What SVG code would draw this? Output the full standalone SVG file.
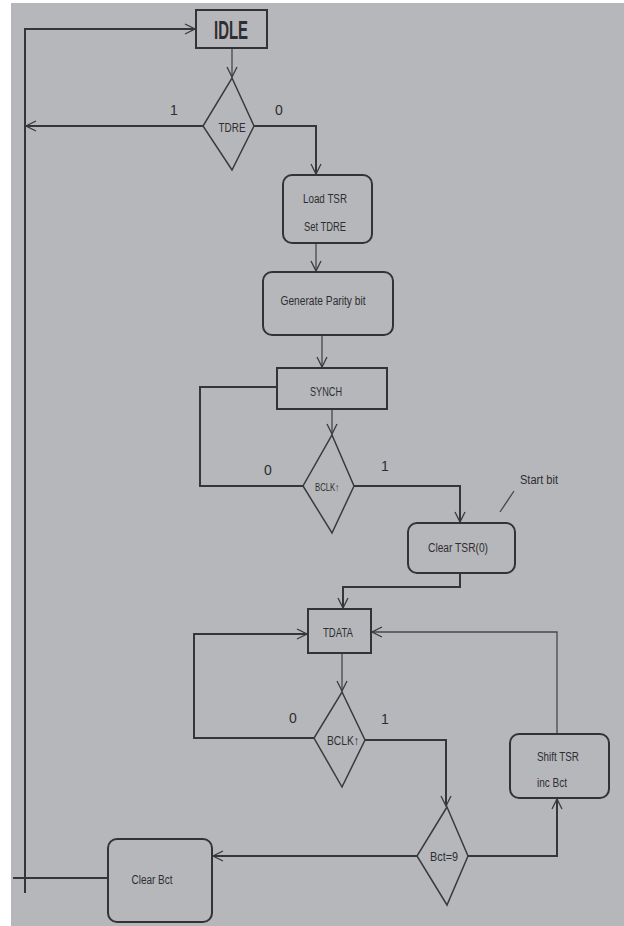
<svg xmlns="http://www.w3.org/2000/svg" width="624" height="926" viewBox="0 0 624 926">
<defs>
<marker id="arr" viewBox="0 0 12 12" refX="11" refY="6" markerWidth="12" markerHeight="12" markerUnits="userSpaceOnUse" orient="auto">
<path d="M1,1 L11,6 L1,11" fill="none" stroke="#3a3a3c" stroke-width="1.3"/>
</marker>
<style>
.bg{fill:#b6b7bb}
.box{fill:none;stroke:#333335;stroke-width:2}
.dia{fill:none;stroke:#3a3a3c;stroke-width:1.5}
.ln{fill:none;stroke:#363638;stroke-width:2}
.thin{fill:none;stroke:#48484a;stroke-width:1.3}
.t{font-family:"Liberation Sans","DejaVu Sans",sans-serif;fill:#2e2e30;text-anchor:middle}
.s{font-size:12px}
.lbl{font-family:"Liberation Sans","DejaVu Sans",sans-serif;fill:#2e2e30;font-size:14px;text-anchor:middle}
</style>
</defs>
<rect width="624" height="926" fill="#ffffff"/>
<rect x="11" y="3" width="613" height="923" class="bg"/>

<g id="connectors">
<path class="ln" d="M25,893 V29 H195" marker-end="url(#arr)"/>
<path class="thin" d="M232,48 V77" marker-end="url(#arr)"/>
<path class="ln" d="M203,126 H26" marker-end="url(#arr)"/>
<path class="ln" d="M254,126 H316 V174" marker-end="url(#arr)"/>
<path class="thin" d="M316,243 V271" marker-end="url(#arr)"/>
<path class="thin" d="M322,335 V367" marker-end="url(#arr)"/>
<path class="thin" d="M332,409 V434" marker-end="url(#arr)"/>
<path class="ln" d="M303,486 H200 V387 H277"/>
<path class="ln" d="M354,486 H460 V522" marker-end="url(#arr)"/>
<path class="ln" d="M460,573 V587 H343 V608" marker-end="url(#arr)"/>
<path class="thin" d="M342,653 V691" marker-end="url(#arr)"/>
<path class="ln" d="M314,738 H194 V634 H307" marker-end="url(#arr)"/>
<path class="ln" d="M365,740 H446 V806" marker-end="url(#arr)"/>
<path class="ln" d="M468,856 H557 V799" marker-end="url(#arr)"/>
<path class="thin" d="M557,734 V632 H372" marker-end="url(#arr)"/>
<path class="ln" d="M417,856 H213" marker-end="url(#arr)"/>
<path class="ln" d="M108,878 H13"/>
<path class="thin" d="M500,512 L514,491"/>
</g>

<g id="idle">
<rect x="196" y="10" width="71" height="38" class="box"/>
<text x="231" y="39" class="t" style="font-size:26px;font-weight:bold" textLength="34" lengthAdjust="spacingAndGlyphs">IDLE</text>
</g>

<g id="tdre">
<polygon points="232,78 254,126 232,170 203,126" class="dia"/>
<text x="232" y="132" class="t s" textLength="27" lengthAdjust="spacingAndGlyphs">TDRE</text>
<text x="174" y="115" class="lbl">1</text>
<text x="279" y="115" class="lbl">0</text>
</g>

<g id="loadtsr">
<rect x="283" y="175" width="89" height="68" rx="9" class="box"/>
<text x="325" y="203" class="t s" textLength="44" lengthAdjust="spacingAndGlyphs">Load TSR</text>
<text x="325" y="231" class="t s" textLength="42" lengthAdjust="spacingAndGlyphs">Set TDRE</text>
</g>

<g id="genparity">
<rect x="263" y="272" width="130" height="63" rx="9" class="box"/>
<text x="323" y="305" class="t s" textLength="85" lengthAdjust="spacingAndGlyphs">Generate Parity bit</text>
</g>

<g id="synch">
<rect x="277" y="368" width="110" height="41" class="box"/>
<text x="326" y="396" class="t s" textLength="32" lengthAdjust="spacingAndGlyphs">SYNCH</text>
</g>

<g id="bclk1">
<polygon points="332,435 354,486 332,533 303,486" class="dia"/>
<text x="327" y="491" class="t" style="font-size:11px" textLength="24" lengthAdjust="spacingAndGlyphs">BCLK↑</text>
<text x="268" y="475" class="lbl">0</text>
<text x="385" y="471" class="lbl">1</text>
</g>

<g id="cleartsr">
<rect x="408" y="523" width="107" height="50" rx="9" class="box"/>
<text x="458" y="552" class="t s" textLength="60" lengthAdjust="spacingAndGlyphs">Clear TSR(0)</text>
</g>

<g id="startbit">
<text x="539" y="484" class="t s" textLength="38" lengthAdjust="spacingAndGlyphs">Start bit</text>
</g>

<g id="tdata">
<rect x="308" y="609" width="63" height="44" class="box"/>
<text x="338" y="637" class="t s" textLength="30" lengthAdjust="spacingAndGlyphs">TDATA</text>
</g>

<g id="bclk2">
<polygon points="342,692 365,740 342,787 314,738" class="dia"/>
<text x="343" y="745" class="t s" textLength="32" lengthAdjust="spacingAndGlyphs">BCLK↑</text>
<text x="293" y="723" class="lbl">0</text>
<text x="385" y="724" class="lbl">1</text>
</g>

<g id="bct9">
<polygon points="447,807 468,856 447,905 417,856" class="dia"/>
<text x="444" y="861" class="t s" textLength="28" lengthAdjust="spacingAndGlyphs">Bct=9</text>
</g>

<g id="shifttsr">
<rect x="510" y="734" width="99" height="64" rx="9" class="box"/>
<text x="537" y="761" class="t s" style="text-anchor:start" textLength="42" lengthAdjust="spacingAndGlyphs">Shift TSR</text>
<text x="537" y="787" class="t s" style="text-anchor:start" textLength="30" lengthAdjust="spacingAndGlyphs">inc Bct</text>
</g>

<g id="clearbct">
<rect x="108" y="839" width="104" height="83" rx="9" class="box"/>
<text x="152" y="884" class="t s" textLength="41" lengthAdjust="spacingAndGlyphs">Clear Bct</text>
</g>
</svg>
